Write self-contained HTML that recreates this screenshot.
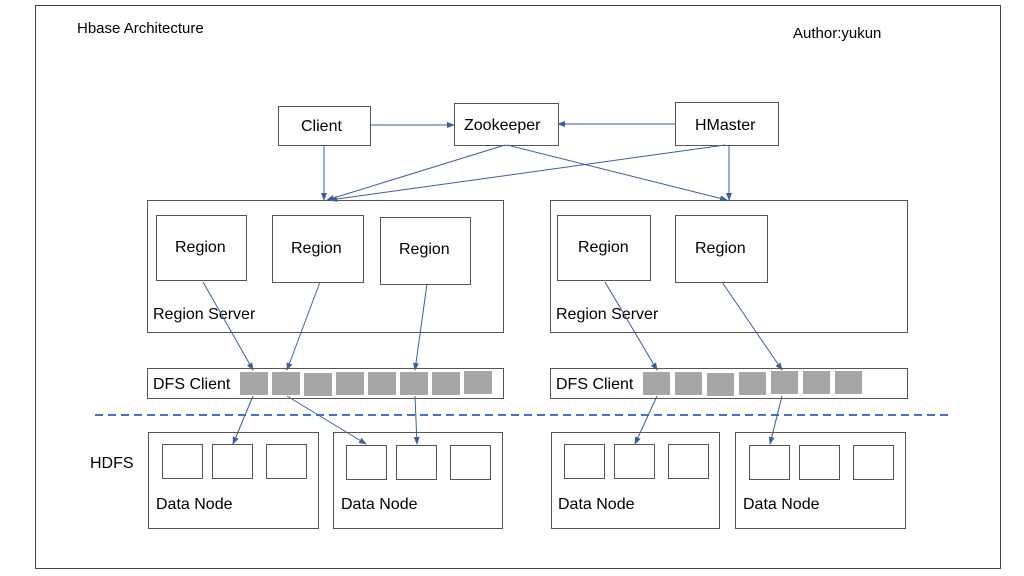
<!DOCTYPE html>
<html><head><style>body{margin:0;background:#fff}svg{display:block}text{font-family:"Liberation Sans",sans-serif;fill:#000}</style></head>
<body>
<svg width="1024" height="576" viewBox="0 0 1024 576" xmlns="http://www.w3.org/2000/svg">
<defs><marker id="a" markerWidth="8" markerHeight="8" refX="7" refY="4" orient="auto" markerUnits="userSpaceOnUse"><path d="M0,1 L8,4 L0,7 z" fill="#3d5f9c"/></marker></defs>
<rect x="35.5" y="5.5" width="965" height="563" fill="none" stroke="#444" stroke-width="1"/>
<text x="77" y="33" font-size="15">Hbase Architecture</text>
<text x="793" y="38" font-size="15">Author:yukun</text>
<g fill="#fff" stroke="#555" stroke-width="1">
<rect x="278.5" y="106.5" width="92" height="39"/>
<rect x="454.5" y="103.5" width="104" height="42"/>
<rect x="675.5" y="102.5" width="103" height="43"/>
<rect x="147.5" y="200.5" width="356" height="132"/>
<rect x="550.5" y="200.5" width="357" height="132"/>
<rect x="156.5" y="215.5" width="90" height="65"/>
<rect x="272.5" y="215.5" width="91" height="67"/>
<rect x="380.5" y="217.5" width="90" height="67"/>
<rect x="557.5" y="215.5" width="93" height="65"/>
<rect x="675.5" y="215.5" width="92" height="67"/>
<rect x="147.5" y="368.5" width="356" height="30"/>
<rect x="550.5" y="368.5" width="357" height="30"/>
<rect x="148.5" y="432.5" width="170" height="96"/>
<rect x="333.5" y="432.5" width="169" height="96"/>
<rect x="551.5" y="432.5" width="168" height="96"/>
<rect x="735.5" y="432.5" width="170" height="96"/>
<rect x="162.5" y="444.5" width="40" height="34"/><rect x="212.5" y="444.5" width="40" height="34"/><rect x="266.5" y="444.5" width="40" height="34"/>
<rect x="346.5" y="445.5" width="40" height="34"/><rect x="396.5" y="445.5" width="40" height="34"/><rect x="450.5" y="445.5" width="40" height="34"/>
<rect x="564.5" y="444.5" width="40" height="34"/><rect x="614.5" y="444.5" width="40" height="34"/><rect x="668.5" y="444.5" width="40" height="34"/>
<rect x="749.5" y="445.5" width="40" height="34"/><rect x="799.5" y="445.5" width="40" height="34"/><rect x="853.5" y="445.5" width="40" height="34"/>
</g>
<g fill="#a6a6a6">
<rect x="240" y="372" width="28" height="23"/><rect x="272" y="372" width="28" height="23"/><rect x="304" y="373" width="28" height="23"/><rect x="336" y="372" width="28" height="23"/><rect x="368" y="372" width="28" height="23"/><rect x="400" y="372" width="28" height="23"/><rect x="432" y="372" width="28" height="23"/><rect x="464" y="371" width="28" height="23"/>
<rect x="643" y="372" width="27" height="23"/><rect x="675" y="372" width="27" height="23"/><rect x="707" y="373" width="27" height="23"/><rect x="739" y="372" width="27" height="23"/><rect x="771" y="371" width="27" height="23"/><rect x="803" y="371" width="27" height="23"/><rect x="835" y="371" width="27" height="23"/>
</g>
<line x1="95" y1="415" x2="948" y2="415" stroke="#4a72c4" stroke-width="2" stroke-dasharray="8,5"/>
<g font-size="16">
<text x="301" y="131">Client</text>
<text x="464" y="130">Zookeeper</text>
<text x="695" y="130">HMaster</text>
<text x="175" y="252">Region</text><text x="291" y="253">Region</text><text x="399" y="254">Region</text>
<text x="578" y="252">Region</text><text x="695" y="253">Region</text>
<text x="153" y="319">Region Server</text><text x="556" y="319">Region Server</text>
<text x="153" y="389">DFS Client</text><text x="556" y="389">DFS Client</text>
<text x="90" y="468">HDFS</text>
<text x="156" y="509">Data Node</text><text x="341" y="509">Data Node</text><text x="558" y="509">Data Node</text><text x="743" y="509">Data Node</text>
</g>
<g stroke="#3d5f9c" stroke-width="1" fill="none" marker-end="url(#a)">
<line x1="370" y1="125" x2="454" y2="125"/>
<line x1="675" y1="124" x2="558" y2="124"/>
<line x1="324" y1="145" x2="324" y2="200"/>
<line x1="505" y1="145" x2="327" y2="200"/>
<line x1="725" y1="145" x2="330" y2="200"/>
<line x1="507" y1="145" x2="727" y2="200"/>
<line x1="729" y1="145" x2="729" y2="200"/>
<line x1="203" y1="282" x2="253" y2="370"/>
<line x1="320" y1="282" x2="287" y2="370"/>
<line x1="427" y1="284" x2="415" y2="370"/>
<line x1="605" y1="282" x2="657" y2="370"/>
<line x1="722" y1="282" x2="782" y2="370"/>
<line x1="253" y1="396" x2="233" y2="444"/>
<line x1="287" y1="396" x2="366" y2="444"/>
<line x1="415" y1="396" x2="417" y2="444"/>
<line x1="657" y1="396" x2="635" y2="444"/>
<line x1="782" y1="396" x2="770" y2="444"/>
</g>
</svg>
</body></html>
